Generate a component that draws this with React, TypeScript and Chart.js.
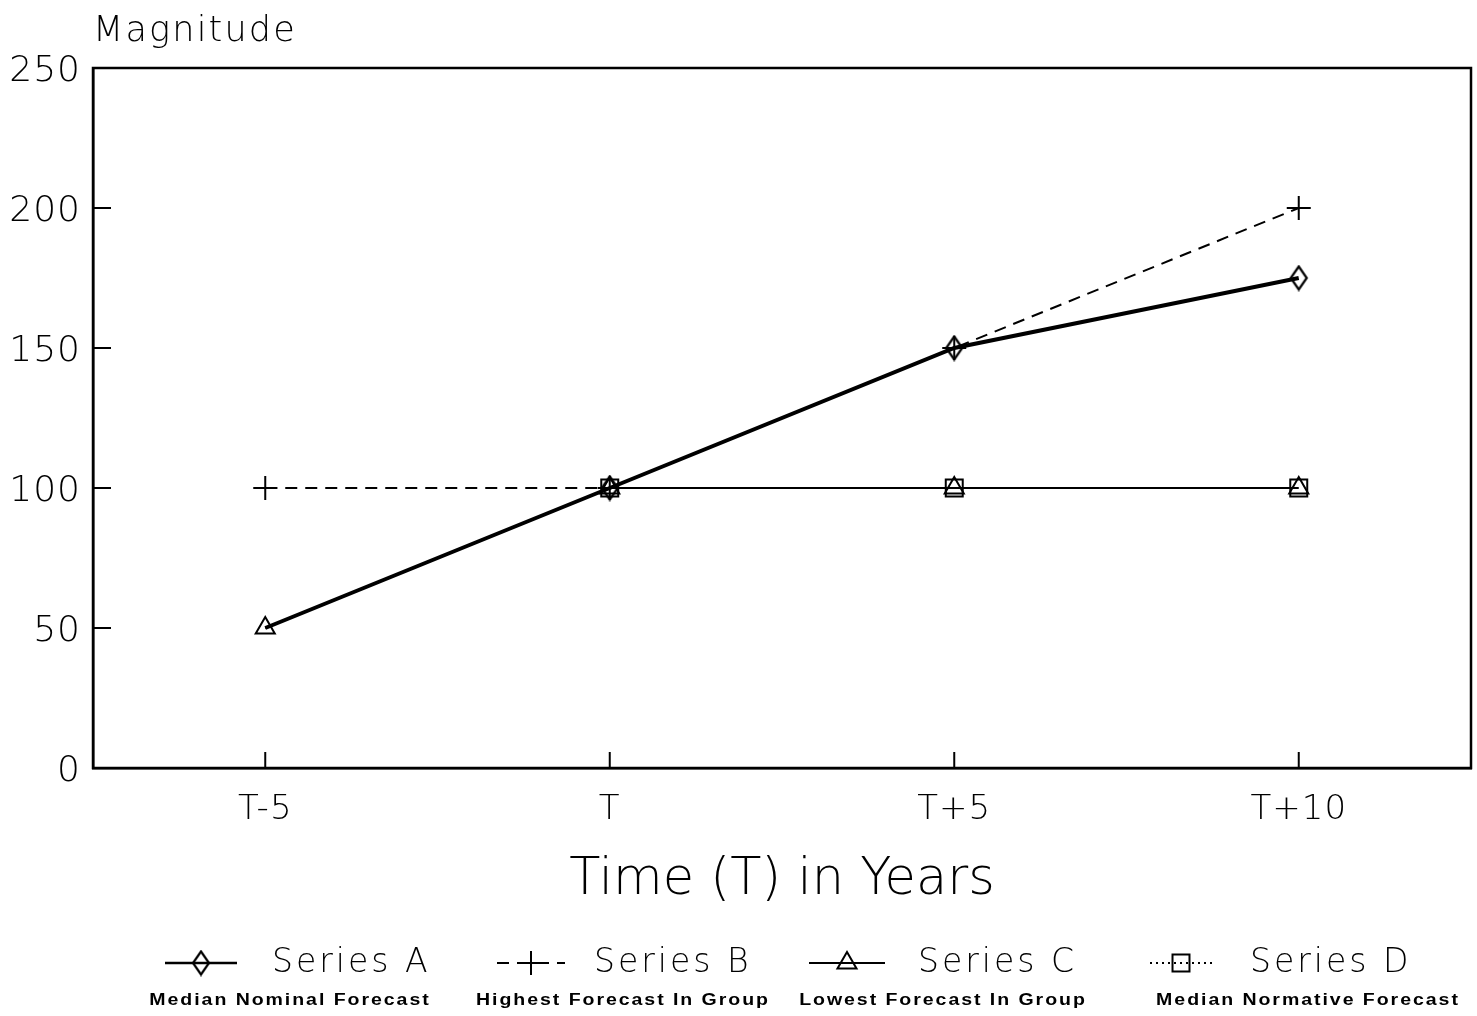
import React, { useEffect, useRef } from 'react';
import { Chart, registerables } from 'chart.js';

Chart.register(...registerables);

const categories = ['T-5', 'T', 'T+5', 'T+10'];
const seriesA = [50, 100, 150, 175];
const seriesB = [100, 100, 150, 200];
const seriesC = [50, 100, 100, 100];
const seriesD: (number | null)[] = [null, 100, 100, 100];
const seriesNames = ['Series A', 'Series B', 'Series C', 'Series D'];
const seriesNotes = [
  'Median Nominal Forecast',
  'Highest Forecast In Group',
  'Lowest Forecast In Group',
  'Median Normative Forecast',
];
const yMin = 0;
const yMax = 250;
const yStep = 50;
const yTitle = 'Magnitude';
const xTitle = 'Time (T) in Years';

const FONT = '"Liberation Sans", Arial, sans-serif';
const THIN = '"DejaVu Sans", sans-serif';
const W = 1477;
const H = 1016;

function makeDiamond(): HTMLCanvasElement {
  const c = document.createElement('canvas');
  c.width = 20;
  c.height = 27;
  const g = c.getContext('2d')!;
  g.strokeStyle = '#000';
  g.lineWidth = 2.2;
  g.beginPath();
  g.moveTo(10, 2);
  g.lineTo(18, 13.5);
  g.lineTo(10, 25);
  g.lineTo(2, 13.5);
  g.closePath();
  g.stroke();
  return c;
}

function drawText(
  ctx: CanvasRenderingContext2D,
  s: string,
  x: number,
  y: number,
  font: string,
  align: CanvasTextAlign,
  spacing: number,
  scaleX = 1
) {
  ctx.save();
  ctx.font = font;
  (ctx as any).letterSpacing = spacing + 'px';
  ctx.fillStyle = '#000';
  ctx.textBaseline = 'middle';
  ctx.textAlign = 'left';
  const w = (ctx.measureText(s).width - spacing) * scaleX;
  let x0 = x;
  if (align === 'center') x0 = x - w / 2;
  else if (align === 'right') x0 = x - w;
  ctx.translate(x0, y);
  ctx.scale(scaleX, 1);
  ctx.fillText(s, 0, 0);
  ctx.restore();
}

function drawMarker(ctx: CanvasRenderingContext2D, style: any, r: number, x: number, y: number) {
  ctx.save();
  ctx.setLineDash([]);
  ctx.strokeStyle = '#000';
  ctx.lineWidth = 2;
  ctx.beginPath();
  if (style instanceof HTMLCanvasElement) {
    ctx.drawImage(style, x - style.width / 2, y - style.height / 2);
  } else if (style === 'cross') {
    ctx.moveTo(x - r, y);
    ctx.lineTo(x + r, y);
    ctx.moveTo(x, y - r);
    ctx.lineTo(x, y + r);
    ctx.stroke();
  } else if (style === 'triangle') {
    const a = (Math.PI * 2) / 3;
    ctx.moveTo(x, y - r);
    ctx.lineTo(x + Math.sin(a) * r, y - Math.cos(a) * r);
    ctx.lineTo(x + Math.sin(2 * a) * r, y - Math.cos(2 * a) * r);
    ctx.closePath();
    ctx.stroke();
  } else if (style === 'rect') {
    const s = r * Math.SQRT1_2;
    ctx.rect(x - s, y - s, 2 * s, 2 * s);
    ctx.stroke();
  }
  ctx.restore();
}

const legendCols = [
  { sample: 201, half: 36, text: 272, note: 289 },
  { sample: 531, half: 34, text: 594, note: 622 },
  { sample: 847, half: 38, text: 918, note: 942 },
  { sample: 1181, half: 31, text: 1250, note: 1307 },
];

const decorPlugin = {
  id: 'decor',
  beforeDraw(chart: any) {
    chart.ctx.letterSpacing = '1px';
  },
  afterDraw(chart: any) {
    const { ctx, chartArea: a, scales } = chart;
    ctx.save();
    ctx.letterSpacing = '0px';
    ctx.strokeStyle = '#000';
    ctx.lineWidth = 2.5;
    ctx.setLineDash([]);
    ctx.strokeRect(a.left, a.top, a.right - a.left, a.bottom - a.top);
    ctx.lineWidth = 2;
    const xs = scales.x;
    const ys = scales.y;
    xs.ticks.forEach((_: any, i: number) => {
      const px = xs.getPixelForTick(i);
      ctx.beginPath();
      ctx.moveTo(px, a.bottom);
      ctx.lineTo(px, a.bottom - 16);
      ctx.stroke();
    });
    ys.ticks.forEach((_: any, i: number) => {
      const py = ys.getPixelForTick(i);
      ctx.beginPath();
      ctx.moveTo(a.left, py);
      ctx.lineTo(a.left + 18, py);
      ctx.stroke();
    });

    drawText(ctx, yTitle, a.left, 32, `200 35px ${THIN}`, 'left', 2.2);
    drawText(ctx, xTitle, (a.left + a.right) / 2, 881, `200 51px ${THIN}`, 'center', 0);

    chart.data.datasets.forEach((ds: any, i: number) => {
      const col = legendCols[i];
      if (!col) return;
      const ly = 963;
      ctx.save();
      ctx.strokeStyle = '#000';
      ctx.lineWidth = Math.min(ds.borderWidth, 2.5);
      ctx.setLineDash(ds.borderDash || []);
      ctx.beginPath();
      ctx.moveTo(col.sample - col.half, ly);
      ctx.lineTo(col.sample + col.half, ly);
      ctx.stroke();
      ctx.restore();
      const r = Array.isArray(ds.pointRadius) ? ds.pointRadius[ds.pointRadius.length - 1] : ds.pointRadius;
      drawMarker(ctx, ds.pointStyle, r, col.sample, ly);
      drawText(ctx, seriesNames[i], col.text, ly, `200 33px ${THIN}`, 'left', 3);
      drawText(ctx, seriesNotes[i], col.note, 1001, `bold 16px ${FONT}`, 'center', 1.6, 1.22);
    });
    ctx.restore();
  },
};

export default function App() {
  const ref = useRef<HTMLCanvasElement | null>(null);
  useEffect(() => {
    if (!ref.current) return;
    const diamond = makeDiamond();
    const common = {
      borderColor: '#000',
      backgroundColor: 'rgba(0,0,0,0)',
      pointBorderColor: '#000',
      pointBackgroundColor: 'rgba(0,0,0,0)',
      pointBorderWidth: 2,
      tension: 0,
      fill: false,
    };
    const chart = new Chart(ref.current, {
      type: 'line',
      data: {
        labels: categories,
        datasets: [
          { ...common, label: seriesNames[0], data: seriesA, borderWidth: 4, pointStyle: diamond as any, pointRadius: [0, 10, 10, 10] },
          { ...common, label: seriesNames[1], data: seriesB, borderWidth: 2, borderDash: [12, 8], pointStyle: 'cross', pointRadius: 12 },
          { ...common, label: seriesNames[2], data: seriesC, borderWidth: 2.2, pointStyle: 'triangle', pointRadius: 11 },
          { ...common, label: seriesNames[3], data: seriesD, borderWidth: 2, borderDash: [2, 4], pointStyle: 'rect', pointRadius: 12 },
        ],
      },
      options: {
        responsive: false,
        animation: false,
        layout: { autoPadding: false, padding: { top: 68, right: 6, left: 0, bottom: 0 } },
        plugins: { legend: { display: false }, title: { display: false }, tooltip: { enabled: false } },
        scales: {
          x: {
            type: 'category',
            offset: true,
            grid: { display: false, drawTicks: false },
            border: { display: true, color: '#000', width: 2.5 },
            ticks: { color: '#000', font: { family: THIN, size: 34, weight: '200' }, padding: 22, maxRotation: 0 },
            afterFit: (s: any) => {
              s.height = H - 768;
              s.paddingLeft = 0;
              s.paddingRight = 0;
            },
          },
          y: {
            min: yMin,
            max: yMax,
            grid: { display: false, drawTicks: false },
            border: { display: true, color: '#000', width: 2.5 },
            ticks: { stepSize: yStep, color: '#000', font: { family: THIN, size: 36, weight: '200' }, padding: 12, labelOffset: 4 },
            afterFit: (s: any) => { s.width = 93; },
          },
        },
      },
      plugins: [decorPlugin],
    } as any);
    return () => chart.destroy();
  }, []);
  return (
    <div style={{ position: 'absolute', left: 0, top: 0, width: W, height: H, background: '#fff' }}>
      <canvas ref={ref} width={W} height={H} style={{ width: W, height: H, display: 'block' }} />
    </div>
  );
}
